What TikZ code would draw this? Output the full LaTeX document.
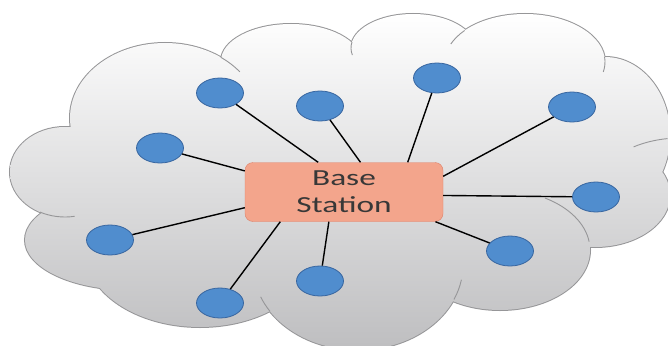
\documentclass[tikz,border=0pt]{standalone}
\usepackage{fontspec}
\setmainfont{Carlito}
\newfontfamily\bsfont[FakeStretch=1.45]{Carlito}
\usepackage{tikz}
\usetikzlibrary{shapes.geometric, positioning}
\definecolor{nodeblue}{RGB}{80,141,206}
\definecolor{nodeedge}{RGB}{56,102,160}
\definecolor{bsfill}{RGB}{243,165,140}
\definecolor{bsedge}{RGB}{222,128,104}
\definecolor{cloudgray}{RGB}{190,190,192}
\definecolor{cloudline}{RGB}{150,150,152}
\newcommand{\puffs}{165/118/95/75, 291/61/70/37, 413/48/62/34, 525/62/80/48, 605/135/65/78,
  595/195/75/52, 500/250/90/60, 358/265/105/85, 200/250/115/77, 130/240/105/50,
  65/172/55/45, 340/175/260/110}

\begin{document}
\begin{tikzpicture}[x=1pt, y=-1pt,
  sensor/.style={ellipse, draw=nodeedge, thick, fill=nodeblue, minimum width=47pt, minimum height=30pt, inner sep=0pt},
  base/.style={rectangle, rounded corners=8pt, draw=bsedge, fill=bsfill, minimum width=198pt, minimum height=59pt,
    align=center, font=\bsfont\fontsize{23}{27}\selectfont, text=black!78, inner sep=0pt},
  link/.style={line width=1.4pt, black},
  stub/.style={cloudline, line width=0.9pt}]
  \useasboundingbox (0,0) rectangle (668,345);
  % cloud: outline first, then the shaded union on top
  \foreach \cx/\cy/\rx/\ry in \puffs
    \draw[cloudline, line width=2pt] (\cx,\cy) ellipse [x radius=\rx pt, y radius=\ry pt];
  \shade[top color=white, bottom color=cloudgray]
    \foreach \cx/\cy/\rx/\ry in \puffs {(\cx,\cy) ellipse [x radius=\rx pt, y radius=\ry pt]};
  % inner folds of the cloud
  \foreach \cx/\cy/\rx/\ry/\ta/\tb in {165/118/95/75/54/38, 413/48/62/34/170/192, 525/62/80/48/139/158,
      525/62/80/48/6/-12, 65/172/55/45/-117/-80, 680/200/90/62/121/98, 500/250/90/60/60/8,
      358/265/105/85/-24/-10, 358/265/105/85/-147/-158}
    \draw[stub] (\cx,\cy) ++(\ta:\rx pt and \ry pt) arc [start angle=\ta, end angle=\tb, x radius=\rx pt, y radius=\ry pt];
  \node[base] (bs) at (344,192) {Base\\Station};
  \foreach \n/\x/\y/\a in {1/220/93/131, 2/320/106/61, 3/437/78/25, 4/572/107/9, 5/160/148/168,
      6/596/197/-2, 7/110/240/189, 8/510/251/-18, 9/320/281/-117, 10/220/303/205} {
    \node[sensor] (s\n) at (\x,\y) {};
    \draw[link] (bs.\a) -- (s\n);
  }
\end{tikzpicture}
\end{document}
